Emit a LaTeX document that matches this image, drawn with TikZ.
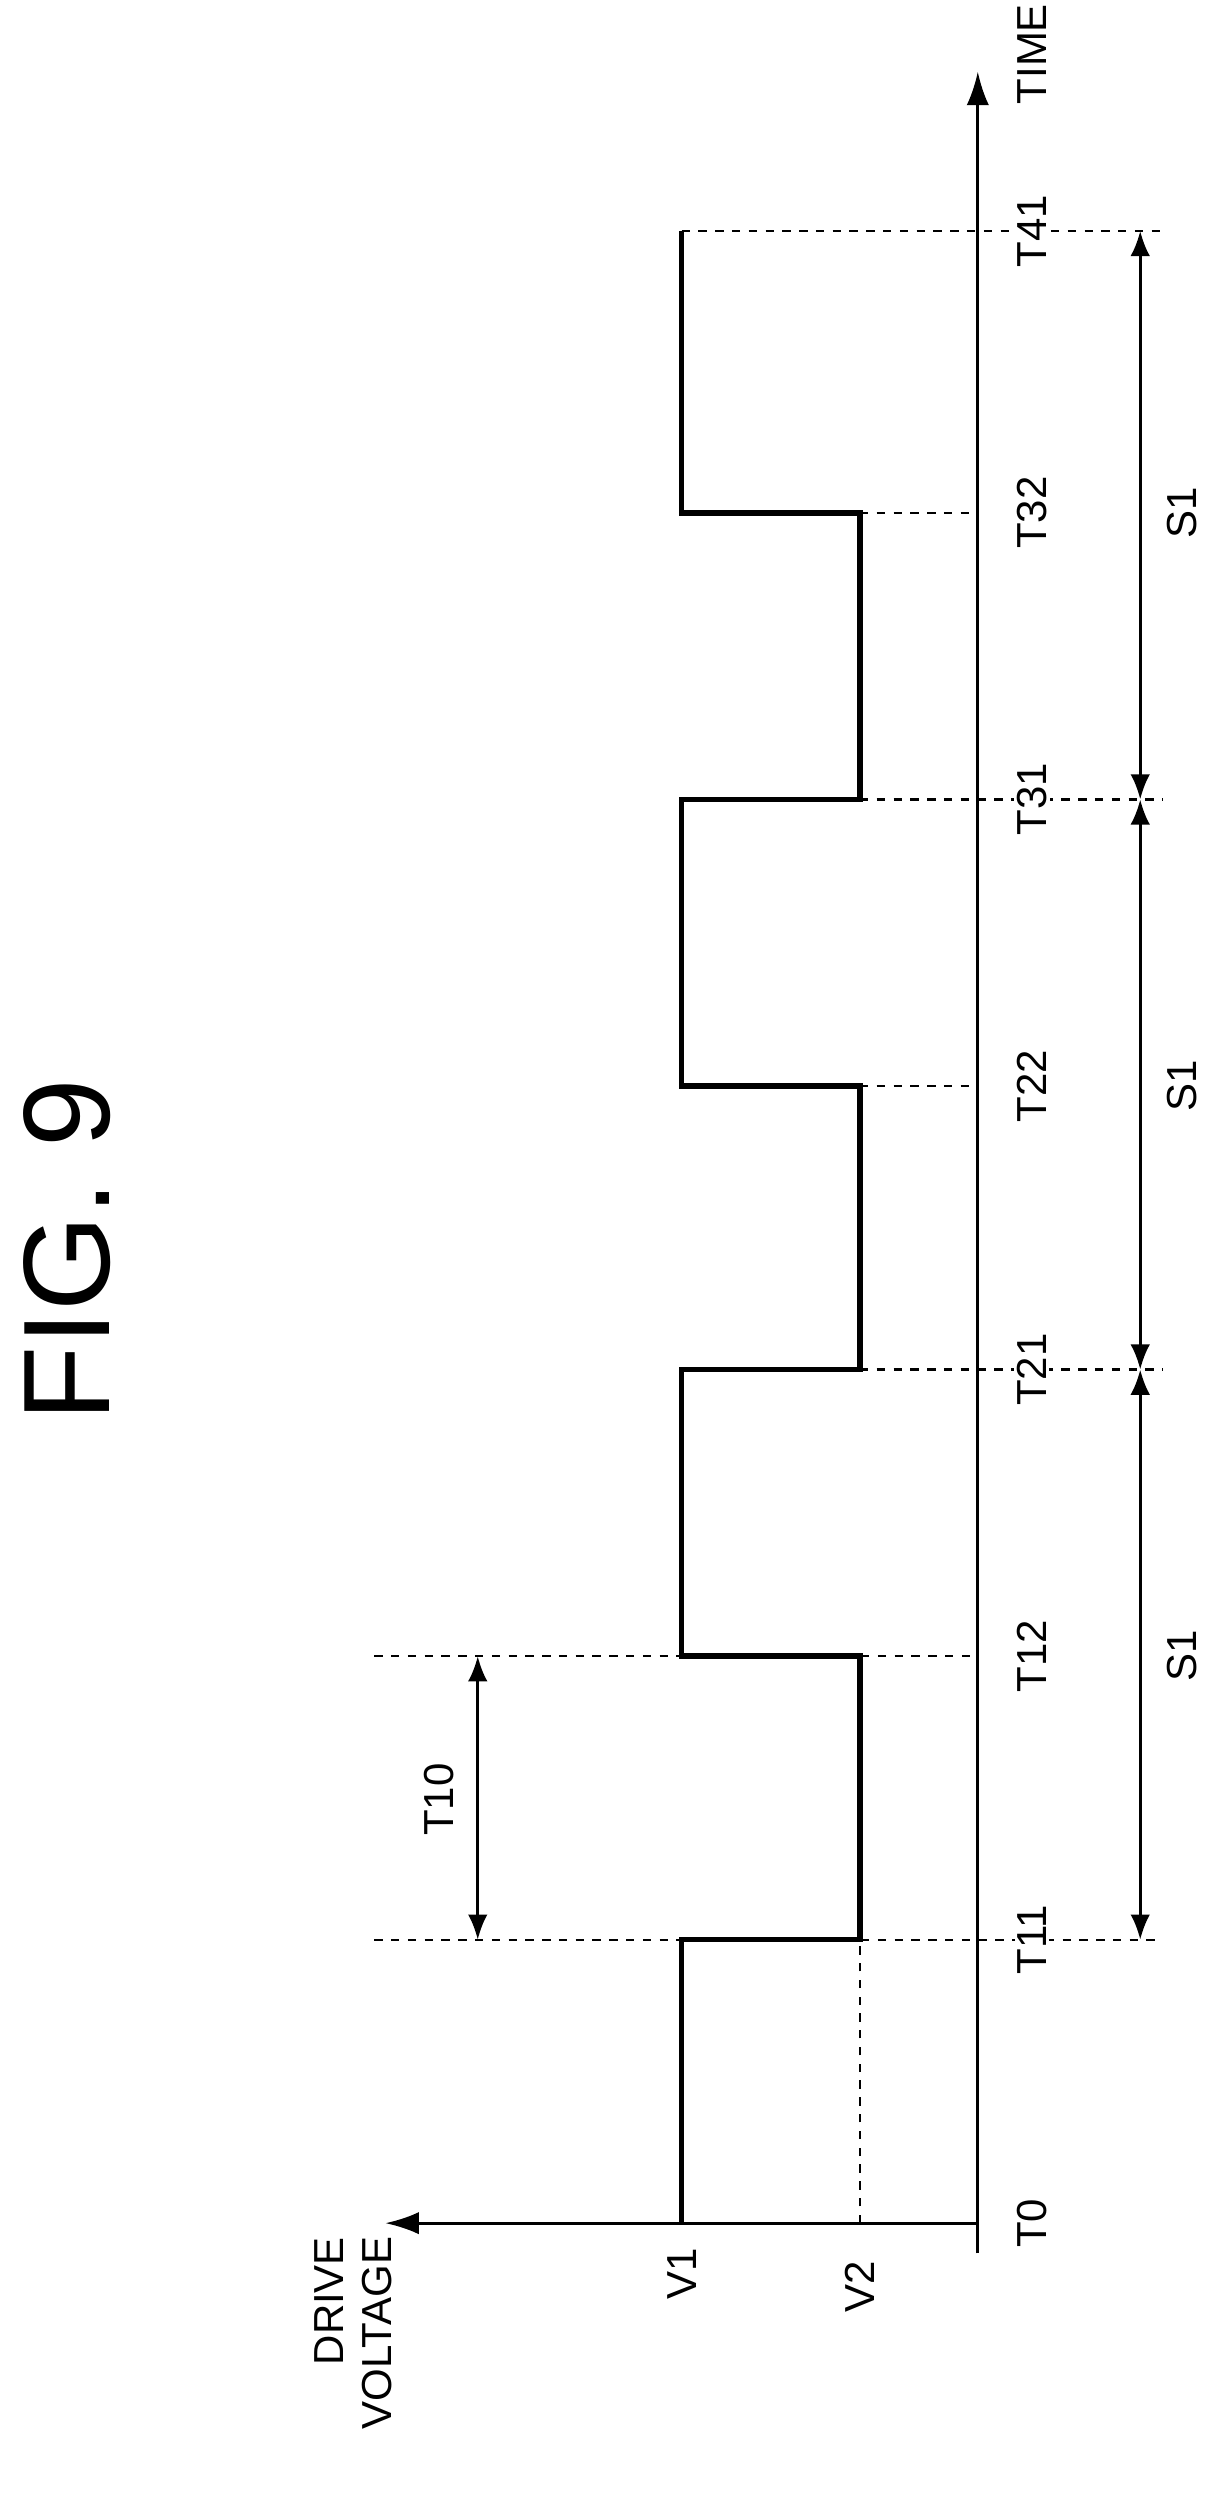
\documentclass[tikz,border=0pt]{standalone}
\usepackage{fontspec}
\setmainfont{Liberation Sans}
\usetikzlibrary{arrows.meta}
\tikzset{
  lbl/.style={rotate=90, font=\fontsize{15}{17}\selectfont, inner sep=1pt},
  tlbl/.style={lbl, fill=white},
  guide/.style={draw, dashed, line width=0.8pt},
  span/.style={draw, line width=1pt, {Latex[length=9pt,width=7pt]}-{Latex[length=9pt,width=7pt]}}
}
\begin{document}
\begin{tikzpicture}[x=0.02cm, y=-0.02cm]
\useasboundingbox (0,0) rectangle (768,1573);

\node[rotate=90, font=\fontsize{44}{48}\selectfont] (fig) at (42,785) {FIG. 9};

% axes
\coordinate (o) at (614,1396);
\coordinate (tend) at (614,45);
\coordinate (vend) at (242,1396);
\coordinate (tbot) at (614,1415);
\path[draw, line width=1pt, -{Latex[length=12pt,width=8pt]}] (tbot) -- (tend);
\path[draw, line width=1pt, -{Latex[length=12pt,width=8pt]}] (o) -- (vend);

% waveform
\path[draw, line width=2pt] (428,1396) -- (428,1218) -- (540,1218) -- (540,1040)
  -- (428,1040) -- (428,860) -- (540,860) -- (540,682) -- (428,682) -- (428,502)
  -- (540,502) -- (540,322) -- (428,322) -- (428,145);

% guide lines
\path[guide] (540,1396) -- (540,1218);
\path[guide] (235,1218) -- (730,1218);
\path[guide] (235,1040) -- (614,1040);
\path[guide] (540,860) -- (730,860);
\path[guide] (540,682) -- (614,682);
\path[guide] (540,502) -- (730,502);
\path[guide] (540,322) -- (614,322);
\path[guide] (428,145) -- (730,145);

% spans
\path[span] (300,1218) -- (300,1040);
\node[lbl] (t10) at (276,1130) {T10};
\path[span] (716,1218) -- (716,860);
\path[span] (716,860) -- (716,502);
\path[span] (716,502) -- (716,145);
\node[lbl] (s1a) at (742,1040) {S1};
\node[lbl] (s1b) at (742,682) {S1};
\node[lbl] (s1c) at (742,322) {S1};

% time labels
\node[tlbl] (t0) at (648,1396) {T0};
\node[tlbl] (t11) at (648,1218) {T11};
\node[tlbl] (t12) at (648,1040) {T12};
\node[tlbl] (t21) at (648,860) {T21};
\node[tlbl] (t22) at (648,682) {T22};
\node[tlbl] (t31) at (648,502) {T31};
\node[tlbl] (t32) at (648,322) {T32};
\node[tlbl] (t41) at (648,145) {T41};
\node[lbl] (time) at (648,34) {TIME};

% voltage labels
\node[lbl] (v1) at (428,1428) {V1};
\node[lbl] (v2) at (540,1436) {V2};
\node[lbl, align=right] (dv) at (222,1465) {DRIVE\\VOLTAGE};
\end{tikzpicture}
\end{document}
